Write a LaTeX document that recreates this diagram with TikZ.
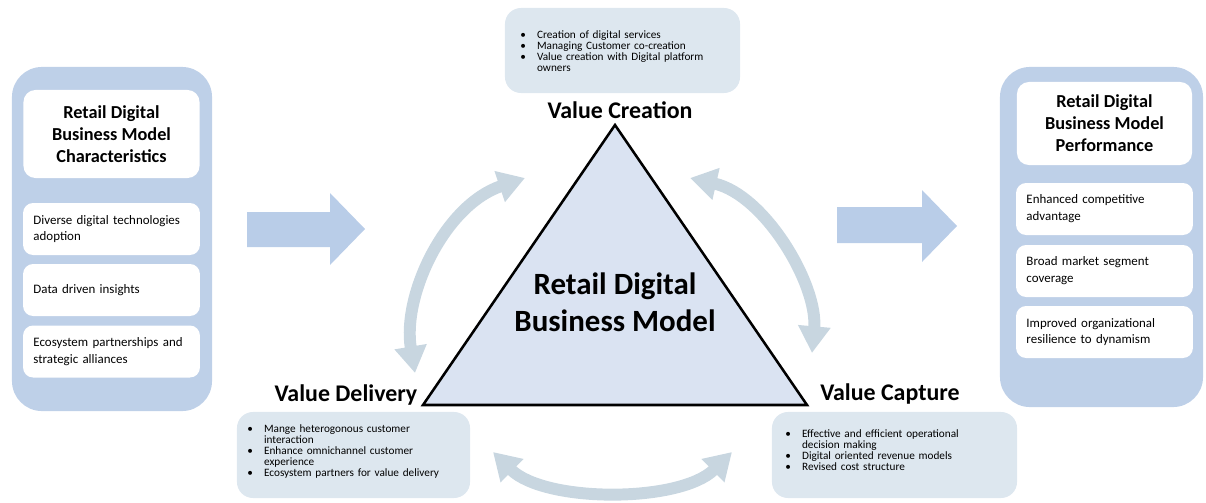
\documentclass[tikz,border=0pt]{standalone}
\usepackage{fontspec}
\setmainfont{Carlito}
\usetikzlibrary{arrows.meta}

\definecolor{panelblue}{RGB}{190,208,232}
\definecolor{flowblue}{RGB}{185,205,232}
\definecolor{notegray}{RGB}{221,231,239}
\definecolor{trifill}{RGB}{218,227,242}
\definecolor{cyclegray}{RGB}{200,214,224}

% bullet lines with hanging indent
\newlength{\bind}\setlength{\bind}{0.42cm}
\newcommand{\bitem}[1]{\par\hangindent=\bind\hangafter=1\noindent\makebox[\bind][l]{\textbullet}#1}

\tikzset{
  panel/.style={fill=panelblue, rounded corners=0.75cm, minimum width=5cm, minimum height=8.6cm},
  headbox/.style={fill=white, rounded corners=0.3cm, align=center, minimum width=4.4cm,
    font=\fontsize{13}{15.6}\selectfont\bfseries},
  itembox/.style={fill=white, rounded corners=0.25cm, align=left, inner xsep=0.26cm, text width=3.9cm,
    minimum height=1.3cm, font=\fontsize{9.2}{12}\selectfont},
  notebox/.style={fill=notegray, rounded corners=0.4cm, minimum height=2.15cm},
  notetext/.style={anchor=north west, inner sep=0pt, align=left, text width=5.3cm,
    font=\fontsize{8}{7.8}\selectfont},
  stage/.style={font=\fontsize{17}{20}\selectfont\bfseries},
  flow/.style={fill=flowblue},
  cyclearrow/.style={draw=cyclegray, line width=8.5pt,
    {Triangle[width=22pt,length=19pt]}-{Triangle[width=22pt,length=19pt]}},
}

\begin{document}
\begin{tikzpicture}[x=0.025cm, y=-0.025cm]
  \useasboundingbox (0,0) rectangle (1206,502);

  % Characteristics panel
  \node[panel] (lpanel) at (112,239) {};
  \node[headbox, minimum height=2.2cm] (lhead) at (111.5,134) {Retail Digital\\Business Model\\Characteristics};
  \node[itembox] (tech) at (111.5,229) {Diverse digital technologies\\adoption};
  \node[itembox] (data) at (111.5,290) {Data driven insights};
  \node[itembox] (eco) at (111.5,351.5) {Ecosystem partnerships and\\strategic alliances};

  % Performance panel
  \node[panel, minimum width=5.075cm, minimum height=8.5cm] (rpanel) at (1101.5,237) {};
  \node[headbox, minimum width=4.375cm, minimum height=2.075cm] (rhead) at (1104.5,123.5) {Retail Digital\\Business Model\\Performance};
  \node[itembox] (comp) at (1104.5,209) {Enhanced competitive\\advantage};
  \node[itembox] (seg) at (1104.5,271) {Broad market segment\\coverage};
  \node[itembox] (res) at (1104.5,332) {Improved organizational\\resilience to dynamism};

  % Flow arrows
  \fill[flow] (247,212) -- (330,212) -- (330,193) -- (365,229) -- (330,265) -- (330,247) -- (247,247) -- cycle;
  \fill[flow] (837,207) -- (922,207) -- (922,190) -- (957,226) -- (922,262) -- (922,243) -- (837,243) -- cycle;

  % Triangle
  \coordinate (top) at (615,125);
  \coordinate (bl) at (423,405);
  \coordinate (br) at (807,405);
  \draw[fill=trifill, line width=1.8pt] (top) -- (br) -- (bl) -- cycle;
  \node[align=center, font=\fontsize{22}{26.5}\selectfont\bfseries] (rdbm) at (615,302) {Retail Digital\\Business Model};

  % Cycle arrows
  \coordinate (l1) at (415,373);
  \coordinate (l2) at (525,178);
  \coordinate (r1) at (690,178);
  \coordinate (r2) at (812,353);
  \coordinate (b1) at (493,452);
  \coordinate (b2) at (732,452);
  \draw[cyclearrow] (l1) .. controls (402,295) and (445,205) .. (l2);
  \draw[cyclearrow] (r1) .. controls (765,195) and (818,285) .. (r2);
  \draw[cyclearrow] (b1) .. controls (545,503) and (680,503) .. (b2);

  % Stage labels
  \node[stage] (vcre) at (620,110) {Value Creation};
  \node[stage] (vdel) at (346,395) {Value Delivery};
  \node[stage] (vcap) at (890,394) {Value Capture};

  % Bullet notes
  \node[notebox, minimum width=5.875cm, minimum height=2.125cm] (crebox) at (622.5,50.5) {};
  \node[notetext, text width=5.4cm] (cretext) at (520,27) {%
    \bitem{Creation of digital services}
    \bitem{Managing Customer co-creation}
    \bitem{Value creation with Digital platform\newline owners}\par};
  \node[notebox, minimum width=5.825cm] (delbox) at (353.5,455) {};
  \node[notetext] (deltext) at (247,421) {%
    \bitem{Mange heterogonous customer\newline interaction}
    \bitem{Enhance omnichannel customer\newline experience}
    \bitem{Ecosystem partners for value delivery}\par};
  \node[notebox, minimum width=6.125cm] (capbox) at (894.5,455) {};
  \node[notetext] (captext) at (785,426) {%
    \bitem{Effective and efficient operational\newline decision making}
    \bitem{Digital oriented revenue models}
    \bitem{Revised cost structure}\par};
\end{tikzpicture}
\end{document}
